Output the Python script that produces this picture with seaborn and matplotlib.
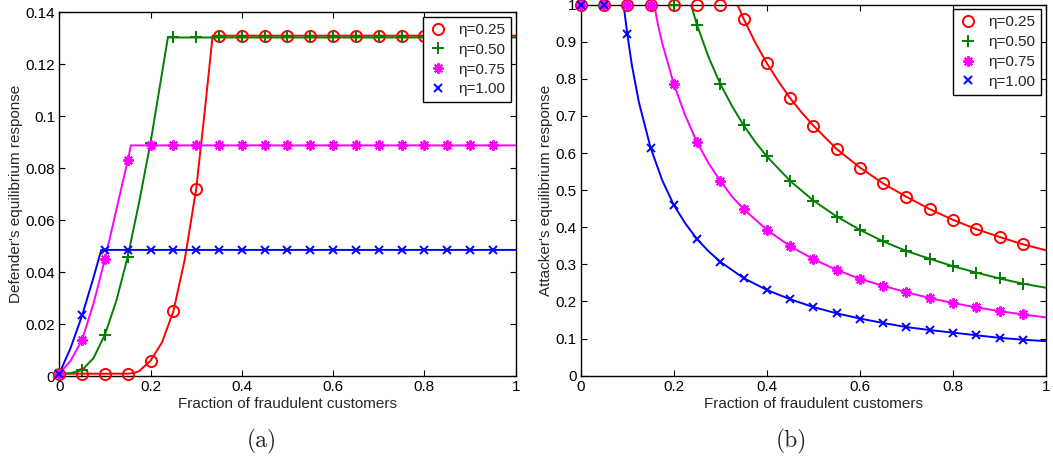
import numpy as np
import pandas as pd
import matplotlib
matplotlib.use("Agg")
import matplotlib.pyplot as plt
from matplotlib.lines import Line2D
import seaborn as sns

# ---------------- data ----------------
labels = ["η=0.25", "η=0.50", "η=0.75", "η=1.00"]
colors = ["#ff0000", "#008000", "#ff00ff", "#0000ff"]

x_mark = [0.0, 0.05, 0.10, 0.15, 0.20, 0.25, 0.30, 0.35, 0.40, 0.45,
          0.50, 0.55, 0.60, 0.65, 0.70, 0.75, 0.80, 0.85, 0.90, 0.95]

# (a) defender's response - marker values
def_m_025 = [0.001, 0.001, 0.001, 0.001, 0.006, 0.025, 0.072, 0.131, 0.131, 0.131,
             0.131, 0.131, 0.131, 0.131, 0.131, 0.131, 0.131, 0.131, 0.131, 0.131]
def_m_050 = [0.001, 0.0024, 0.016, 0.046, 0.0899, 0.1303, 0.1303, 0.1303, 0.1303, 0.1303,
             0.1303, 0.1303, 0.1303, 0.1303, 0.1303, 0.1303, 0.1303, 0.1303, 0.1303, 0.1303]
def_m_075 = [0.001, 0.014, 0.045, 0.083, 0.0888, 0.0888, 0.0888, 0.0888, 0.0888, 0.0888,
             0.0888, 0.0888, 0.0888, 0.0888, 0.0888, 0.0888, 0.0888, 0.0888, 0.0888, 0.0888]
def_m_100 = [0.001, 0.0234, 0.0486, 0.0486, 0.0486, 0.0486, 0.0486, 0.0486, 0.0486, 0.0486,
             0.0486, 0.0486, 0.0486, 0.0486, 0.0486, 0.0486, 0.0486, 0.0486, 0.0486, 0.0486]

# (a) defender's response - curve points
def_lx_025 = [0.0, 0.05, 0.10, 0.15, 0.165, 0.175, 0.20, 0.225, 0.25, 0.275, 0.30, 0.32, 0.336, 1.0]
def_ly_025 = [0.001, 0.001, 0.001, 0.001, 0.0013, 0.002, 0.006, 0.013, 0.025, 0.045, 0.072, 0.104, 0.131, 0.131]
def_lx_050 = [0.0, 0.025, 0.05, 0.075, 0.10, 0.125, 0.15, 0.175, 0.20, 0.238, 1.0]
def_ly_050 = [0.001, 0.0012, 0.0024, 0.007, 0.016, 0.029, 0.046, 0.067, 0.0899, 0.1303, 0.1303]
def_lx_075 = [0.0, 0.025, 0.05, 0.075, 0.10, 0.125, 0.15, 0.157, 1.0]
def_ly_075 = [0.001, 0.006, 0.014, 0.028, 0.045, 0.064, 0.083, 0.0888, 0.0888]
def_lx_100 = [0.0, 0.025, 0.05, 0.075, 0.092, 1.0]
def_ly_100 = [0.001, 0.011, 0.0234, 0.038, 0.0486, 0.0486]

# (b) attacker's response - marker values
att_m_025 = [1.0, 1.0, 1.0, 1.0, 1.0, 1.0, 1.0, 0.962, 0.842, 0.748,
             0.674, 0.611, 0.561, 0.518, 0.482, 0.449, 0.420, 0.395, 0.374, 0.354]
att_m_050 = [1.0, 1.0, 1.0, 1.0, 1.0, 0.945, 0.786, 0.675, 0.591, 0.525,
             0.472, 0.429, 0.393, 0.362, 0.336, 0.315, 0.295, 0.278, 0.262, 0.248]
att_m_075 = [1.0, 1.0, 1.0, 1.0, 0.786, 0.629, 0.525, 0.449, 0.393, 0.349,
             0.314, 0.285, 0.261, 0.242, 0.225, 0.209, 0.196, 0.184, 0.174, 0.165]
att_m_100 = [1.0, 1.0, 0.922, 0.615, 0.460, 0.368, 0.307, 0.263, 0.231, 0.206,
             0.185, 0.168, 0.154, 0.142, 0.131, 0.123, 0.116, 0.109, 0.102, 0.097]

# (b) attacker's response - curve points
att_lx_025 = [0.0, 0.337, 0.35, 0.375, 0.40, 0.425, 0.45, 0.475, 0.50, 0.55, 0.60,
              0.65, 0.70, 0.75, 0.80, 0.85, 0.90, 0.95, 1.0]
att_ly_025 = [1.0, 1.0, 0.962, 0.898, 0.842, 0.793, 0.748, 0.709, 0.674, 0.611, 0.561,
              0.518, 0.482, 0.449, 0.420, 0.395, 0.374, 0.354, 0.338]
att_lx_050 = [0.0, 0.237, 0.25, 0.275, 0.30, 0.325, 0.35, 0.375, 0.40, 0.45, 0.50, 0.55,
              0.60, 0.65, 0.70, 0.75, 0.80, 0.85, 0.90, 0.95, 1.0]
att_ly_050 = [1.0, 1.0, 0.945, 0.858, 0.786, 0.727, 0.675, 0.630, 0.591, 0.525, 0.472, 0.429,
              0.393, 0.362, 0.336, 0.315, 0.295, 0.278, 0.262, 0.248, 0.237]
att_lx_075 = [0.0, 0.158, 0.165, 0.175, 0.20, 0.225, 0.25, 0.275, 0.30, 0.325, 0.35, 0.40,
              0.45, 0.50, 0.55, 0.60, 0.65, 0.70, 0.75, 0.80, 0.85, 0.90, 0.95, 1.0]
att_ly_075 = [1.0, 1.0, 0.952, 0.897, 0.786, 0.700, 0.629, 0.572, 0.525, 0.483, 0.449, 0.393,
              0.349, 0.314, 0.285, 0.261, 0.242, 0.225, 0.209, 0.196, 0.184, 0.174, 0.165, 0.157]
att_lx_100 = [0.0, 0.092, 0.10, 0.11, 0.125, 0.15, 0.175, 0.20, 0.225, 0.25, 0.275, 0.30,
              0.35, 0.40, 0.45, 0.50, 0.55, 0.60, 0.65, 0.70, 0.75, 0.80, 0.85, 0.90, 0.95, 1.0]
att_ly_100 = [1.0, 1.0, 0.922, 0.836, 0.737, 0.615, 0.527, 0.460, 0.410, 0.368, 0.335, 0.307,
              0.263, 0.231, 0.206, 0.185, 0.168, 0.154, 0.142, 0.131, 0.123, 0.116, 0.109, 0.102, 0.097, 0.093]

x_ticks = [0, 0.2, 0.4, 0.6, 0.8, 1]
x_ticklabels = ["0", "0.2", "0.4", "0.6", "0.8", "1"]
ya_ticks = [0, 0.02, 0.04, 0.06, 0.08, 0.10, 0.12, 0.14]
ya_ticklabels = ["0", "0.02", "0.04", "0.06", "0.08", "0.1", "0.12", "0.14"]
yb_ticks = [0, 0.1, 0.2, 0.3, 0.4, 0.5, 0.6, 0.7, 0.8, 0.9, 1.0]
yb_ticklabels = ["0", "0.1", "0.2", "0.3", "0.4", "0.5", "0.6", "0.7", "0.8", "0.9", "1"]

xlabel = "Fraction of fraudulent customers"
ylabel_a = "Defender's equilibrium response"
ylabel_b = "Attacker's equilibrium response"

# ---------------- style ----------------
sns.set_style("ticks")
plt.rcParams["font.family"] = ["Liberation Sans", "DejaVu Sans"]
plt.rcParams["xtick.direction"] = "in"
plt.rcParams["ytick.direction"] = "in"

markers = ["o", "+", (8, 2, 0), "x"]
msizes = [8.0, 8.0, 7.5, 6.0]

FS = 11

fig = plt.figure(figsize=(10.53, 4.63), dpi=100)
ax_a = fig.add_axes([0.0563, 0.1873, 0.4334, 0.7862])
ax_b = fig.add_axes([0.5515, 0.1886, 0.4419, 0.8013])


def draw(ax, lines, marks):
    for i, (lx, ly) in enumerate(lines):
        sns.lineplot(x=lx, y=ly, ax=ax, color=colors[i], lw=1.4,
                     estimator=None, sort=False, legend=False)
    for i, my in enumerate(marks):
        sns.lineplot(x=x_mark, y=my, ax=ax, color=colors[i], linestyle="",
                     marker=markers[i], markersize=msizes[i],
                     markerfacecolor="none", markeredgecolor=colors[i],
                     markeredgewidth=1.4, estimator=None, sort=False,
                     legend=False, clip_on=False, zorder=3)


draw(ax_a,
     [(def_lx_025, def_ly_025), (def_lx_050, def_ly_050),
      (def_lx_075, def_ly_075), (def_lx_100, def_ly_100)],
     [def_m_025, def_m_050, def_m_075, def_m_100])
draw(ax_b,
     [(att_lx_025, att_ly_025), (att_lx_050, att_ly_050),
      (att_lx_075, att_ly_075), (att_lx_100, att_ly_100)],
     [att_m_025, att_m_050, att_m_075, att_m_100])

for ax, yt, ytl, ylim, yl in [(ax_a, ya_ticks, ya_ticklabels, (0, 0.14), ylabel_a),
                              (ax_b, yb_ticks, yb_ticklabels, (0, 1.0), ylabel_b)]:
    ax.set_xlim(0, 1)
    ax.set_ylim(*ylim)
    ax.set_xticks(x_ticks)
    ax.set_xticklabels(x_ticklabels)
    ax.set_yticks(yt)
    ax.set_yticklabels(ytl)
    ax.tick_params(axis="both", which="both", direction="in", top=True, right=True,
                   length=4, width=0.8, labelsize=FS, colors="black", pad=3)
    for sp in ax.spines.values():
        sp.set_visible(True)
        sp.set_color("black")
        sp.set_linewidth(1.0)
    ax.set_xlabel(xlabel, fontsize=FS, labelpad=2)
    ax.set_ylabel(yl, fontsize=FS, labelpad=2)
    ax.set_facecolor("white")

    handles = [Line2D([], [], linestyle="", marker=markers[i], markersize=msizes[i],
                      markerfacecolor="none", markeredgecolor=colors[i],
                      markeredgewidth=1.4) for i in range(4)]
    leg = ax.legend(handles, labels, loc="upper right", fontsize=FS,
                    frameon=True, fancybox=False, framealpha=1.0,
                    edgecolor="black", borderaxespad=0.3, handlelength=1.2,
                    handletextpad=0.7, labelspacing=0.38, borderpad=0.4)
    leg.get_frame().set_linewidth(1.0)
    leg.set_zorder(10)

fig.text(0.249, 0.047, "(a)", fontsize=17, family="cmr10", ha="center", va="center")
fig.text(0.752, 0.047, "(b)", fontsize=17, family="cmr10", ha="center", va="center")

fig.savefig("out.png", dpi=100, facecolor="white")
